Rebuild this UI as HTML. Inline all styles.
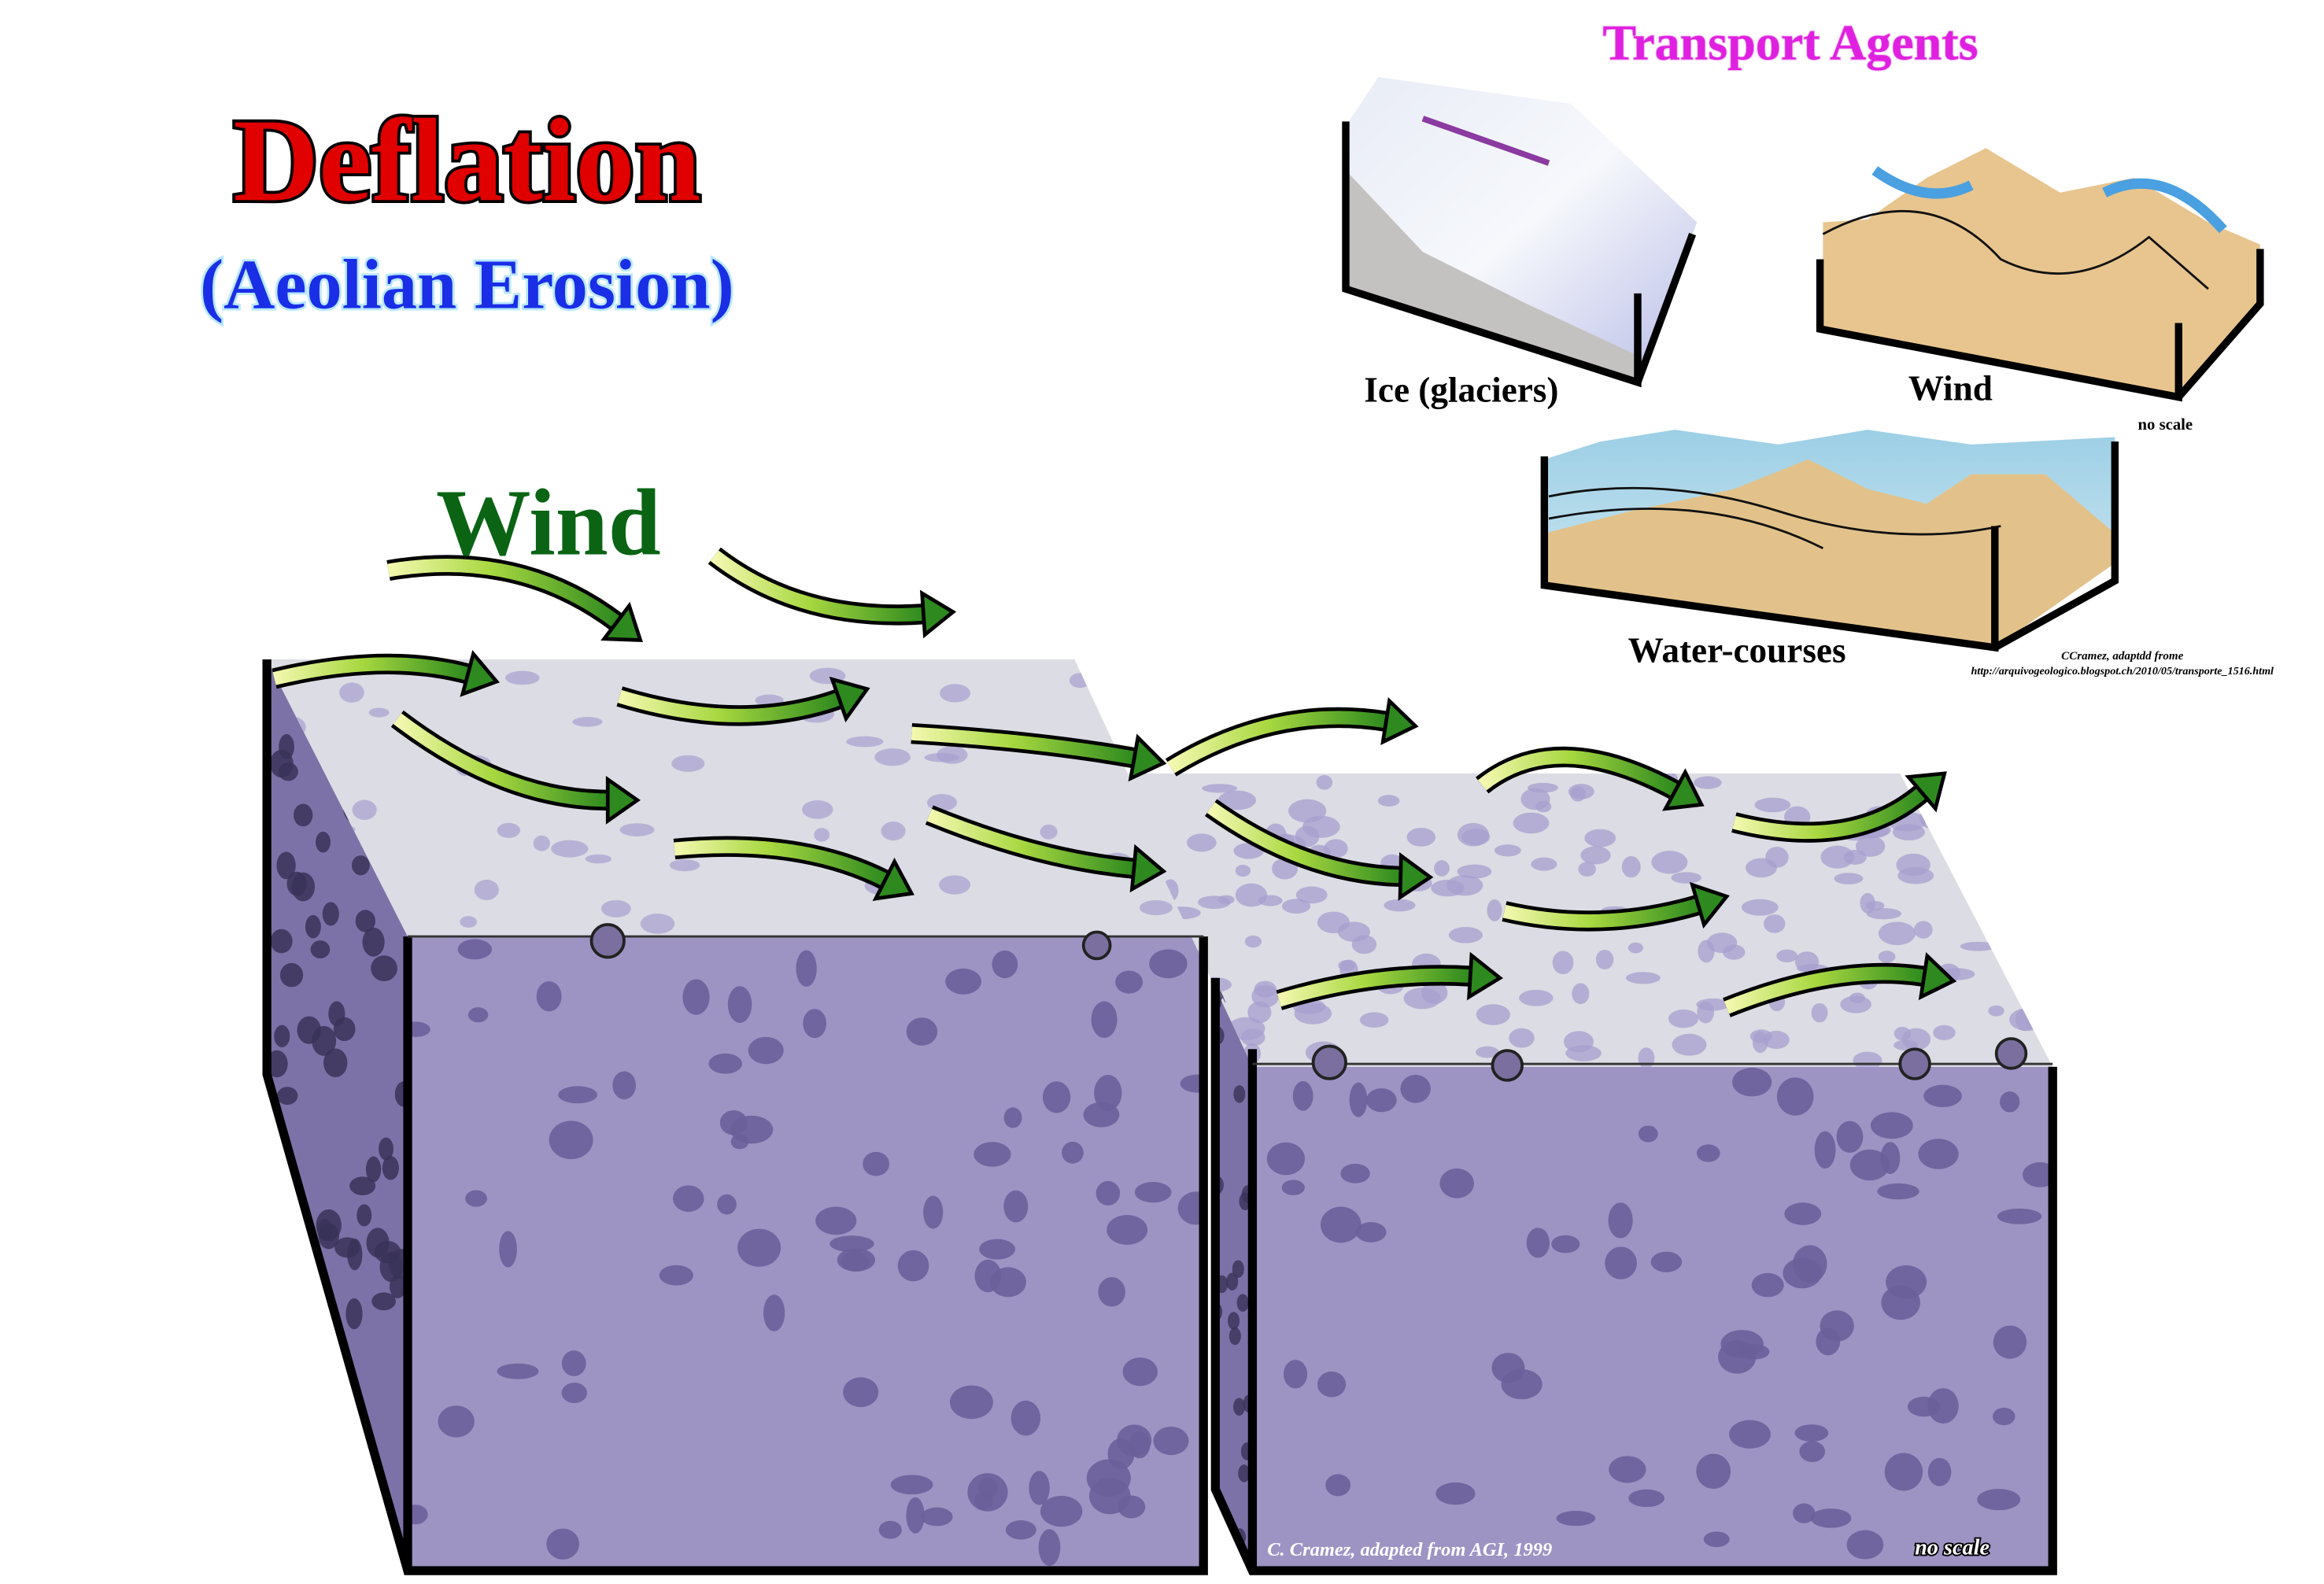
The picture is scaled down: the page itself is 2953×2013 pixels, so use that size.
<!DOCTYPE html>
<html><head><meta charset="utf-8"><style>
html,body{margin:0;padding:0;background:#fff;}
svg{display:block}
</style></head><body>
<svg id="s" width="2953" height="2013" viewBox="0 0 1568 1069" xmlns="http://www.w3.org/2000/svg">
<defs>
<linearGradient id="g" x1="0" y1="0" x2="1" y2="0">
<stop offset="0" stop-color="#f4f8b0"/><stop offset="0.45" stop-color="#a8d840"/><stop offset="1" stop-color="#2e8a1e"/>
</linearGradient>
<linearGradient id="ice" x1="0" y1="0" x2="1" y2="1">
<stop offset="0" stop-color="#e8ecf6"/><stop offset="0.5" stop-color="#f6f8fc"/><stop offset="1" stop-color="#b8bce6"/>
</linearGradient>
<linearGradient id="water" x1="0" y1="0" x2="0" y2="1">
<stop offset="0" stop-color="#9ccfe6"/><stop offset="1" stop-color="#d8ecf2"/>
</linearGradient>
<clipPath id="cLside"><polygon points="180,445 275,632 275,1060 180,725"/></clipPath>
<clipPath id="cLtop"><polygon points="180,445 725,445 812,632 275,632"/></clipPath>
<clipPath id="cLfront"><rect x="275" y="632" width="537" height="428"/></clipPath>
<clipPath id="cRside"><polygon points="818,655 845,720 845,1060 818,1005"/></clipPath>
<clipPath id="cRtop"><polygon points="752,522 1282,522 1385,720 845,720"/></clipPath>
<clipPath id="cRfront"><rect x="845" y="720" width="540" height="340"/></clipPath>
</defs>

<polygon points="180,445 275,632 275,1060 180,725" fill="#7d72a8"/>
<polygon points="180,445 725,445 812,632 275,632" fill="#dcdce4"/>
<rect x="275" y="632" width="537" height="428" fill="#9d94c4"/>
<polygon points="818,655 845,720 845,1060 818,1005" fill="#7d72a8"/>
<polygon points="752,522 1282,522 1385,720 845,720" fill="#dcdce4"/>
<rect x="845" y="720" width="540" height="340" fill="#9d94c4"/>
<g id="b1" clip-path="url(#cLside)"></g>
<g id="b2" clip-path="url(#cLtop)"></g>
<g id="b3" clip-path="url(#cLfront)"></g>
<g id="b4" clip-path="url(#cRside)"></g>
<g id="b5" clip-path="url(#cRtop)"></g>
<g id="b6" clip-path="url(#cRfront)"></g>

<g fill="none" stroke="#000" stroke-width="6" stroke-linejoin="miter">
<polyline points="180,445 180,725 275,1060 812,1060 812,632"/>
<line x1="275" y1="632" x2="275" y2="1060"/>
<polyline points="820,660 820,1005 845,1060 1385,1060 1385,720"/>
<line x1="845" y1="708" x2="845" y2="1060"/>
</g>
<line x1="275" y1="632" x2="812" y2="632" stroke="#333" stroke-width="1.5"/>
<line x1="845" y1="718" x2="1385" y2="718" stroke="#333" stroke-width="1.5"/>
<g fill="#7a6f9e" stroke="#222" stroke-width="2">
<circle cx="410" cy="635" r="11"/><circle cx="740" cy="638" r="9"/>
<circle cx="897" cy="717" r="11"/><circle cx="1017" cy="719" r="10"/><circle cx="1292" cy="718" r="10"/><circle cx="1357" cy="711" r="10"/>
</g>

<g id="arrows"></g>

<text x="315" y="135" text-anchor="middle" font-family="Liberation Serif, serif" font-weight="bold" font-size="80" fill="#e00000" stroke="#000" stroke-width="4" paint-order="stroke">Deflation</text>
<text x="315" y="208" text-anchor="middle" font-family="Liberation Serif, serif" font-weight="bold" font-size="48" fill="#1a2ee6" stroke="#b8e8ff" stroke-width="3" paint-order="stroke">(Aeolian Erosion)</text>
<text x="370" y="374" text-anchor="middle" font-family="Liberation Serif, serif" font-weight="bold" font-size="64" fill="#0a6414">Wind</text>
<text x="1208" y="40" text-anchor="middle" font-family="Liberation Serif, serif" font-weight="bold" font-size="34" fill="#e020e0" stroke="#f0b0f0" stroke-width="1" paint-order="stroke">Transport Agents</text>

<polygon points="908,85 930,52 1060,70 1145,150 1105,258 908,195" fill="url(#ice)"/>
<polygon points="908,115 960,170 1030,205 1105,240 1105,258 908,195" fill="#c4c2c0"/>
<path d="M960,80 L1045,110" stroke="#8a3aa0" stroke-width="4"/>
<g fill="none" stroke="#000" stroke-width="5"><polyline points="908,82 908,195 1105,258 1105,198"/><line x1="1105" y1="258" x2="1142" y2="158"/></g>
<text x="986" y="271" text-anchor="middle" font-family="Liberation Serif, serif" font-weight="bold" font-size="24" fill="#000">Ice (glaciers)</text>

<polygon points="1230,150 1260,148 1300,120 1340,100 1390,130 1440,120 1490,150 1525,165 1525,205 1470,268 1230,220" fill="#e8c58e"/>
<path d="M1230,158 Q1300,120 1350,175 Q1400,200 1450,160 L1490,195" fill="none" stroke="#111" stroke-width="1.5"/>
<path d="M1265,115 Q1300,140 1330,125 M1420,130 Q1460,110 1500,155" stroke="#4aa0e0" stroke-width="7" fill="none"/>
<g fill="none" stroke="#000" stroke-width="5"><polyline points="1228,175 1228,222 1470,268 1470,218"/><polyline points="1470,268 1525,205 1525,168"/></g>
<text x="1316" y="270" text-anchor="middle" font-family="Liberation Serif, serif" font-weight="bold" font-size="24" fill="#000">Wind</text>
<text x="1461" y="290" text-anchor="middle" font-family="Liberation Serif, serif" font-weight="bold" font-size="11" fill="#000">no scale</text>

<polygon points="1042,310 1080,298 1130,290 1200,300 1260,290 1330,300 1427,295 1427,380 1346,437 1042,395" fill="url(#water)"/>
<polygon points="1042,360 1100,345 1170,330 1220,310 1260,330 1300,340 1330,320 1380,320 1427,360 1427,380 1346,437 1042,395" fill="#e2c28a"/>
<path d="M1045,335 Q1120,320 1200,345 Q1280,370 1350,355 M1045,350 Q1150,330 1230,370" fill="none" stroke="#111" stroke-width="1.5"/>
<g fill="none" stroke="#000" stroke-width="5"><polyline points="1042,308 1042,395 1346,437 1346,355"/><polyline points="1346,437 1427,392 1427,298"/></g>
<text x="1172" y="447" text-anchor="middle" font-family="Liberation Serif, serif" font-weight="bold" font-size="24" fill="#000">Water-courses</text>
<text x="1432" y="445" text-anchor="middle" font-family="Liberation Serif, serif" font-style="italic" font-weight="bold" font-size="8" fill="#000">CCramez, adaptdd frome</text>
<text x="1432" y="455" text-anchor="middle" font-family="Liberation Serif, serif" font-style="italic" font-weight="bold" font-size="7.5" fill="#000">http://arquivogeologico.blogspot.ch/2010/05/transporte_1516.html</text>

<text x="855" y="1050" font-family="Liberation Serif, serif" font-style="italic" font-weight="bold" font-size="13" fill="#fff">C. Cramez, adapted from AGI, 1999</text>
<text x="1292" y="1049" font-family="Liberation Serif, serif" font-style="italic" font-weight="bold" font-size="15" fill="#fff" stroke="#000" stroke-width="2" paint-order="stroke">no scale</text>

<script>
(function(){
var NS="http://www.w3.org/2000/svg";
var seed=7;function r(){seed=(seed*16807)%2147483647;return seed/2147483647;}
function ell(id,cx,cy,rx,ry,fill,op){var e=document.createElementNS(NS,"ellipse");e.setAttribute("cx",cx);e.setAttribute("cy",cy);e.setAttribute("rx",rx);e.setAttribute("ry",ry);e.setAttribute("fill",fill);e.setAttribute("opacity",op);document.getElementById(id).appendChild(e);}
for(var i=0;i<80;i++){ell("b3",280+r()*530,640+r()*415,6+r()*9,5+r()*8,"#6b5f9a",0.9);}
for(var i=0;i<65;i++){ell("b6",850+r()*530,725+r()*330,6+r()*9,5+r()*8,"#6b5f9a",0.9);}
for(var i=0;i<70;i++){ell("b1",182+r()*92,450+r()*605,5+r()*4,6+r()*5,"#3a3258",0.85);}
for(var i=0;i<20;i++){ell("b4",820+r()*24,660+r()*390,4,6,"#3a3258",0.8);}
for(var i=0;i<45;i++){ell("b2",185+r()*620,450+r()*180,5+r()*8,3+r()*4,"#a79fcf",0.7);}
for(var i=0;i<170;i++){ell("b5",755+r()*625,525+r()*193,5+r()*8,3+r()*5,"#a79fcf",0.75);}
var arrows=[[185,458,260,440,335,460],[262,385,350,370,432,432],[268,485,340,540,430,540],[482,375,540,420,643,413],[418,470,500,495,585,465],[455,573,540,565,615,603],[615,495,700,500,785,515],[627,550,700,580,785,588],[790,518,860,475,955,490],[817,545,880,590,965,592],[1000,530,1050,490,1148,543],[1015,615,1080,630,1165,605],[863,675,930,655,1012,660],[1170,555,1250,575,1312,522],[1165,680,1240,650,1318,662]];
var ga=document.getElementById("arrows");
arrows.forEach(function(a){
 var dx=a[4]-a[2],dy=a[5]-a[3],L=Math.hypot(dx,dy),ux=dx/L,uy=dy/L,px=-uy,py=ux;
 var bx=a[4]-ux*20,by=a[5]-uy*20;
 var d="M"+a[0]+","+a[1]+" Q"+a[2]+","+a[3]+" "+bx+","+by;
 var head=[a[4],a[5],bx+px*14,by+py*14,bx-px*14,by-py*14].join(",");
 [["#000",14],["url(#g)",9]].forEach(function(s){var p=document.createElementNS(NS,"path");p.setAttribute("d",d);p.setAttribute("fill","none");p.setAttribute("stroke",s[0]);p.setAttribute("stroke-width",s[1]);ga.appendChild(p);});
 var h=document.createElementNS(NS,"polygon");h.setAttribute("points",head);h.setAttribute("fill","#2e8a1e");h.setAttribute("stroke","#000");h.setAttribute("stroke-width","2.5");ga.appendChild(h);
});
})();
</script>
</svg>
</body></html>
